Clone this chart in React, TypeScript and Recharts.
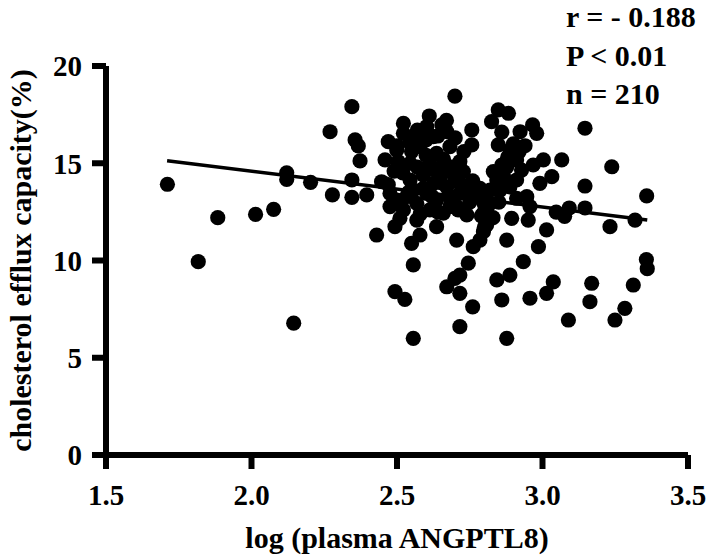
import React from 'react';
import { ScatterChart, Scatter, XAxis, YAxis, ReferenceLine } from 'recharts';

// log(plasma ANGPTL8)
const xValues = [
  1.711, 1.817, 1.884, 2.014, 2.076, 2.121, 2.121, 2.145, 2.203, 2.27, 2.278, 2.345, 2.345, 2.345, 2.356, 2.367, 2.373, 2.396,
  2.699, 2.522, 2.611, 2.654, 2.671, 2.757, 2.757, 2.848, 2.883, 2.825, 2.848, 2.923, 2.966, 2.98, 2.47, 2.459, 2.504, 2.579,
  2.636, 2.682, 2.716, 2.728, 2.831, 2.888, 2.911, 2.877, 2.968, 3.003, 2.991, 2.447, 2.545, 2.59, 2.625, 2.671, 2.716, 2.751,
  2.797, 2.82, 2.843, 2.911, 2.911, 2.946, 2.957, 2.499, 2.522, 2.568, 2.636, 2.682, 2.74, 2.808, 2.808, 2.785, 2.762, 2.894,
  2.951, 3.014, 2.43, 2.493, 2.568, 2.579, 2.55, 2.636, 2.705, 2.877, 2.986,
  2.934, 2.556, 2.745, 2.716, 2.699, 2.671, 2.716, 2.843, 2.888, 2.493, 2.527, 2.76, 2.86, 2.957, 3.014, 2.716, 2.556, 2.877,
  3.032, 3.037, 3.047, 3.076, 3.092, 3.066, 3.089, 3.146, 3.146, 3.146, 3.163, 3.169, 3.238, 3.232, 3.249, 3.283, 3.312, 3.318,
  3.357, 3.36, 3.358,
  2.545, 2.613, 2.659, 2.682, 2.556, 2.602, 2.648, 2.522, 2.568, 2.602, 2.625, 2.545, 2.499, 2.705, 2.751, 2.785, 2.854, 2.866,
  2.888, 2.9, 2.928, 2.797, 2.82, 2.797, 2.476, 2.476, 2.533, 2.613, 2.659, 2.705, 2.51,
  2.6, 2.64, 2.7, 2.73, 2.6, 2.55, 2.66, 2.69, 2.62, 2.57, 2.52, 2.49, 2.65, 2.7, 2.59, 2.54, 2.62, 2.68, 2.72, 2.76,
  2.78, 2.8, 2.83, 2.85, 2.86, 2.88, 2.9, 2.92, 2.94, 2.86, 2.8, 2.79, 2.58, 2.64, 2.71, 2.57, 2.5, 2.67, 2.75, 2.47,
];

// cholesterol efflux capacity (%)
const yValues = [
  13.92, 9.94, 12.2, 12.37, 12.63, 14.51, 14.17, 6.78, 14.02, 16.62, 13.37, 17.91, 14.14, 13.25, 16.2, 15.89, 15.12, 13.37,
  18.45, 17.05, 17.43, 16.97, 16.62, 16.71, 15.94, 17.74, 17.57, 17.14, 15.94, 16.62, 16.97, 16.54, 16.11, 15.17, 15.08, 15.85,
  15.51, 15.85, 15.08, 14.57, 14.57, 15.68, 15.17, 14.82, 14.91, 15.17, 13.97, 14.05, 14.14, 14.4, 13.97, 13.79, 13.45, 13.37,
  13.11, 13.62, 14.14, 14.14, 13.2, 13.28, 12.77, 13.11, 12.6, 12.94, 13.11, 12.77, 12.34, 12.6, 11.83, 11.05, 10.71, 12.17,
  12.08, 11.57, 11.31, 11.74, 12.08, 11.31, 10.88, 11.74, 11.05, 11.05, 10.71,
  9.94, 9.77, 9.86, 9.25, 9.08, 8.65, 8.31, 9.0, 9.25, 8.4, 8.0, 7.62, 7.97, 8.06, 8.31, 6.6, 6.0, 6.0,
  14.31, 8.9, 12.49, 12.27, 12.7, 15.17, 6.94, 16.8, 13.83, 12.7, 7.88, 8.83, 14.82, 11.74, 6.94, 7.54, 8.74, 12.08,
  10.05, 9.58, 13.32,
  15.0, 15.0, 14.82, 14.57, 13.62, 13.45, 14.31, 16.54, 16.54, 16.88, 16.37, 16.03, 15.68, 14.14, 13.79, 13.71, 13.62, 14.31,
  13.79, 15.25, 14.65, 12.43, 12.94, 11.48, 12.77, 13.45, 13.28, 12.6, 12.43, 12.77, 12.17,
  16.2, 16.4, 16.3, 15.6, 15.4, 15.6, 15.2, 14.8, 14.7, 14.8, 14.5, 14.6, 14.0, 14.2, 13.7, 13.5, 13.3, 13.3, 13.9, 14.1,
  13.4, 12.9, 12.2, 13.0, 14.9, 15.3, 16.0, 15.6, 15.9, 16.6, 11.7, 12.3, 12.4, 12.5, 12.6, 16.7, 15.9, 17.2, 13.0, 13.9,
];

const xTicks = [1.5, 2.0, 2.5, 3.0, 3.5];
const yTicks = [0, 5, 10, 15, 20];
const fitStart = { x: 1.71, y: 15.13 };
const fitEnd = { x: 3.36, y: 12.08 };
const statLines = ['r = - 0.188', 'P < 0.01', 'n = 210'];
const xTitle = 'log (plasma ANGPTL8)';
const yTitle = 'cholesterol efflux capacity(%)';

const data = xValues.map((x, i) => ({ x, y: yValues[i] }));

const FONT = "'Liberation Serif', 'Times New Roman', serif";

const Dot = (props: any) => <circle cx={props.cx} cy={props.cy} r={7.6} fill="#000" />;

const YTitle = (props: any) => {
  const vb = props.viewBox || { x: 0, y: 66, width: 106, height: 389 };
  const cx = 20;
  const cy = vb.y + vb.height / 2;
  return (
    <text
      x={cx}
      y={cy}
      transform={`rotate(-90 ${cx} ${cy})`}
      textAnchor="middle"
      dominantBaseline="central"
      fill="#000"
      fontSize={30}
      fontWeight={700}
      fontFamily={FONT}
    >
      {yTitle}
    </text>
  );
};

export default function App() {
  return (
    <div style={{ position: 'absolute', left: 0, top: 0, width: 709, height: 560, background: '#fff' }}>
      <ScatterChart width={709} height={560} margin={{ top: 66, right: 21, bottom: 0, left: 0 }}>
        <XAxis
          type="number"
          dataKey="x"
          domain={[1.5, 3.5]}
          ticks={xTicks}
          tickFormatter={(v: number) => v.toFixed(1)}
          height={105}
          tickSize={14}
          tickMargin={15}
          axisLine={{ stroke: '#000', strokeWidth: 6 }}
          tickLine={{ stroke: '#000', strokeWidth: 6 }}
          tick={{ fill: '#000', fontSize: 29, fontWeight: 700, fontFamily: FONT }}
          label={{
            value: xTitle,
            position: 'insideBottom',
            offset: 12,
            fill: '#000',
            fontSize: 30,
            fontWeight: 700,
            fontFamily: FONT,
          }}
        />
        <YAxis
          type="number"
          dataKey="y"
          domain={[0, 20]}
          ticks={yTicks}
          width={106}
          tickSize={14}
          tickMargin={10}
          axisLine={{ stroke: '#000', strokeWidth: 6 }}
          tickLine={{ stroke: '#000', strokeWidth: 6 }}
          tick={{ fill: '#000', fontSize: 29, fontWeight: 700, fontFamily: FONT }}
          label={YTitle}
        />
        <Scatter data={data} fill="#000" shape={Dot} isAnimationActive={false} />
        <ReferenceLine segment={[fitStart, fitEnd]} stroke="#000" strokeWidth={3.5} ifOverflow="visible" />
      </ScatterChart>
      <svg
        width={709}
        height={560}
        style={{ position: 'absolute', left: 0, top: 0, pointerEvents: 'none' }}
      >
        {statLines.map((s, i) => (
          <text
            key={s}
            x={566}
            y={27 + i * 38.5}
            fill="#000"
            fontSize={30}
            fontWeight={700}
            fontFamily={FONT}
          >
            {s}
          </text>
        ))}
      </svg>
    </div>
  );
}
